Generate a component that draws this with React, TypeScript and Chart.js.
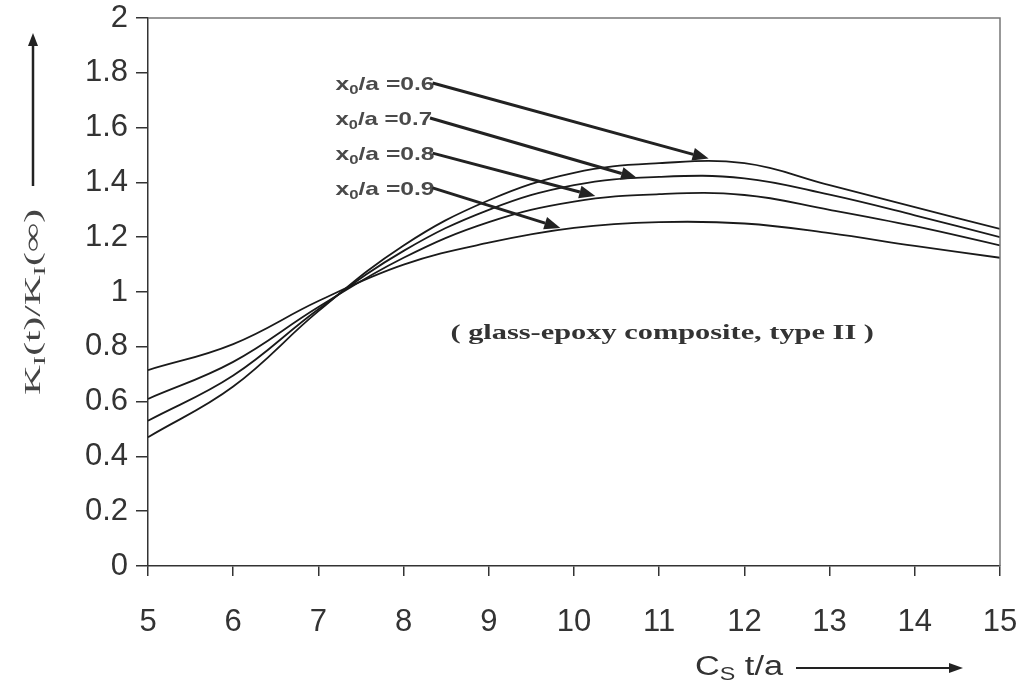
import React, { useEffect, useRef } from "react";
import { Chart, registerables } from "chart.js";
Chart.register(...registerables);

// ---------- data ----------
const xValues = [5, 6, 7, 8, 9, 10, 11, 12, 13, 14, 15];
const seriesNames = ["0.6", "0.7", "0.8", "0.9"];
const series06 = [0.47, 0.655, 0.93, 1.17, 1.335, 1.435, 1.47, 1.47, 1.39, 1.31, 1.23];
const series07 = [0.53, 0.695, 0.937, 1.15, 1.3, 1.39, 1.42, 1.415, 1.355, 1.28, 1.2];
const series08 = [0.61, 0.745, 0.945, 1.125, 1.255, 1.33, 1.357, 1.354, 1.3, 1.24, 1.17];
const series09 = [0.715, 0.81, 0.967, 1.1, 1.18, 1.234, 1.255, 1.25, 1.215, 1.168, 1.125];
const yTickLabels = ["0", "0.2", "0.4", "0.6", "0.8", "1", "1.2", "1.4", "1.6", "1.8", "2"];
const xTickLabels = ["5", "6", "7", "8", "9", "10", "11", "12", "13", "14", "15"];

// annotation arrows (data units)
const labelLeftX = [7.2, 7.2, 7.2, 7.2];
const arrowStartX = [8.34, 8.31, 8.34, 8.34];
const arrowStartY = [1.763, 1.635, 1.507, 1.38];
const arrowEndX = [11.58, 10.74, 10.25, 9.84];
const arrowEndY = [1.487, 1.416, 1.35, 1.234];

const noteText = "( glass-epoxy composite, type II )";
const noteLeftX = 8.55;
const noteRightX = 13.52;
const noteBaselineY = 0.828;

type Part = { t: string; sub?: boolean };

function partsWidth(ctx: CanvasRenderingContext2D, parts: Part[], size: number, family: string, weight: string) {
  let w = 0;
  for (const p of parts) {
    ctx.font = `${weight} ${p.sub ? size * 0.68 : size}px ${family}`;
    w += ctx.measureText(p.t).width;
  }
  return w;
}

function drawParts(
  ctx: CanvasRenderingContext2D,
  parts: Part[],
  size: number,
  family: string,
  weight: string,
  color: string,
  targetWidth: number,
  subDrop: number
) {
  const w = partsWidth(ctx, parts, size, family, weight);
  const sx = targetWidth / w;
  ctx.save();
  ctx.scale(sx, 1);
  ctx.fillStyle = color;
  ctx.textBaseline = "alphabetic";
  ctx.textAlign = "left";
  let cx = 0;
  for (const p of parts) {
    ctx.font = `${weight} ${p.sub ? size * 0.68 : size}px ${family}`;
    ctx.fillText(p.t, cx, p.sub ? size * subDrop : 0);
    cx += ctx.measureText(p.t).width;
  }
  ctx.restore();
}

function arrow(ctx: CanvasRenderingContext2D, x1: number, y1: number, x2: number, y2: number, lw: number, head: number, hw: number, color: string) {
  const ang = Math.atan2(y2 - y1, x2 - x1);
  const bx = x2 - Math.cos(ang) * head;
  const by = y2 - Math.sin(ang) * head;
  ctx.save();
  ctx.strokeStyle = color;
  ctx.fillStyle = color;
  ctx.lineWidth = lw;
  ctx.beginPath();
  ctx.moveTo(x1, y1);
  ctx.lineTo(bx, by);
  ctx.stroke();
  ctx.beginPath();
  ctx.moveTo(x2, y2);
  ctx.lineTo(bx + Math.sin(ang) * hw, by - Math.cos(ang) * hw);
  ctx.lineTo(bx - Math.sin(ang) * hw, by + Math.cos(ang) * hw);
  ctx.closePath();
  ctx.fill();
  ctx.restore();
}

const SANS = "'Liberation Sans', Arial, sans-serif";
const SERIF = "'Liberation Serif', 'Times New Roman', serif";

const decorPlugin = {
  id: "decor",
  afterDraw(chart: any) {
    const ctx: CanvasRenderingContext2D = chart.ctx;
    const xs = chart.scales.x;
    const ys = chart.scales.y;
    const area = chart.chartArea;

    // top & right frame lines
    ctx.save();
    ctx.strokeStyle = "#777";
    ctx.lineWidth = 1.5;
    ctx.beginPath();
    ctx.moveTo(area.left, area.top);
    ctx.lineTo(area.right, area.top);
    ctx.lineTo(area.right, area.bottom);
    ctx.stroke();
    ctx.restore();

    // series annotations
    for (let i = 0; i < seriesNames.length; i++) {
      const lx = xs.getPixelForValue(labelLeftX[i]);
      const sx = xs.getPixelForValue(arrowStartX[i]);
      const sy = ys.getPixelForValue(arrowStartY[i]);
      const ex = xs.getPixelForValue(arrowEndX[i]);
      const ey = ys.getPixelForValue(arrowEndY[i]);
      ctx.save();
      ctx.translate(lx, sy + 7);
      drawParts(
        ctx,
        [{ t: "x" }, { t: "0", sub: true }, { t: "/a =" + seriesNames[i] }],
        19,
        SANS,
        "bold",
        "#4a4a4a",
        sx - lx + 2,
        0.22
      );
      ctx.restore();
      arrow(ctx, sx, sy, ex, ey, 3, 16, 6.5, "#222");
    }

    // note text
    {
      const l = xs.getPixelForValue(noteLeftX);
      const r = xs.getPixelForValue(noteRightX);
      const b = ys.getPixelForValue(noteBaselineY);
      ctx.save();
      ctx.translate(l, b);
      drawParts(ctx, [{ t: noteText }], 22, SERIF, "bold", "#333", r - l, 0);
      ctx.restore();
    }

    // y-axis title (rotated) with arrow
    {
      const tx = area.left - 108;
      const bottom = area.top + 377;
      ctx.save();
      ctx.translate(tx, bottom);
      ctx.rotate(-Math.PI / 2);
      drawParts(
        ctx,
        [{ t: "K" }, { t: "I", sub: true }, { t: "(t)/K" }, { t: "I", sub: true }, { t: "(\u221E)" }],
        24,
        SERIF,
        "normal",
        "#444",
        186,
        0.22
      );
      ctx.restore();
      arrow(ctx, area.left - 115, area.top + 168, area.left - 115, area.top + 15, 2.5, 13, 5, "#222");
    }

    // x-axis title with arrow
    {
      const l = 695;
      const b = area.bottom + 109;
      ctx.save();
      ctx.translate(l, b);
      drawParts(ctx, [{ t: "C" }, { t: "S", sub: true }, { t: " t/a" }], 27, SANS, "normal", "#333", 88, 0.2);
      ctx.restore();
      arrow(ctx, 796, area.bottom + 102, 963, area.bottom + 102, 2.2, 14, 5, "#222");
    }
  },
};

export default function App() {
  const ref = useRef<HTMLCanvasElement | null>(null);
  useEffect(() => {
    if (!ref.current) return;
    const all = [series06, series07, series08, series09];
    const chart = new Chart(ref.current, {
      type: "line",
      data: {
        datasets: all.map((s, i) => ({
          label: "x0/a =" + seriesNames[i],
          data: xValues.map((x, j) => ({ x, y: s[j] })),
          borderColor: "#1a1a1a",
          borderWidth: 1.8,
          pointRadius: 0,
          tension: 0.4,
          fill: false,
        })),
      },
      options: {
        animation: false,
        responsive: false,
        layout: { padding: { left: 0, top: 18, right: 24, bottom: 0 } },
        plugins: { legend: { display: false }, tooltip: { enabled: false }, title: { display: false } },
        scales: {
          x: {
            type: "linear",
            min: 5,
            max: 15,
            ticks: {
              stepSize: 1,
              color: "#333",
              font: { family: SANS, size: 31 },
              padding: 28,
              maxRotation: 0,
              callback: (v: any, i: number) => xTickLabels[i] ?? String(v),
            },
            grid: { display: true, drawOnChartArea: false, tickLength: 10, color: "#333", lineWidth: 1.5 },
            border: { display: true, color: "#333", width: 1.5 },
            afterFit: (s: any) => {
              s.height = 117;
              s.paddingLeft = 0;
              s.paddingRight = 0;
            },
          },
          y: {
            type: "linear",
            min: 0,
            max: 2,
            ticks: {
              stepSize: 0.2,
              color: "#333",
              font: { family: SANS, size: 31 },
              padding: 8,
              callback: (v: any, i: number) => yTickLabels[i] ?? String(v),
            },
            grid: { display: true, drawOnChartArea: false, tickLength: 12, color: "#333", lineWidth: 1.5 },
            border: { display: true, color: "#333", width: 1.5 },
            afterFit: (s: any) => {
              s.width = 148;
              s.paddingTop = 0;
              s.paddingBottom = 0;
            },
          },
        },
      },
      plugins: [decorPlugin],
    });
    return () => chart.destroy();
  }, []);
  return (
    <div style={{ position: "fixed", left: 0, top: 0, width: 1024, height: 683, background: "#fff" }}>
      <canvas ref={ref} width={1024} height={683} style={{ display: "block" }} />
    </div>
  );
}
